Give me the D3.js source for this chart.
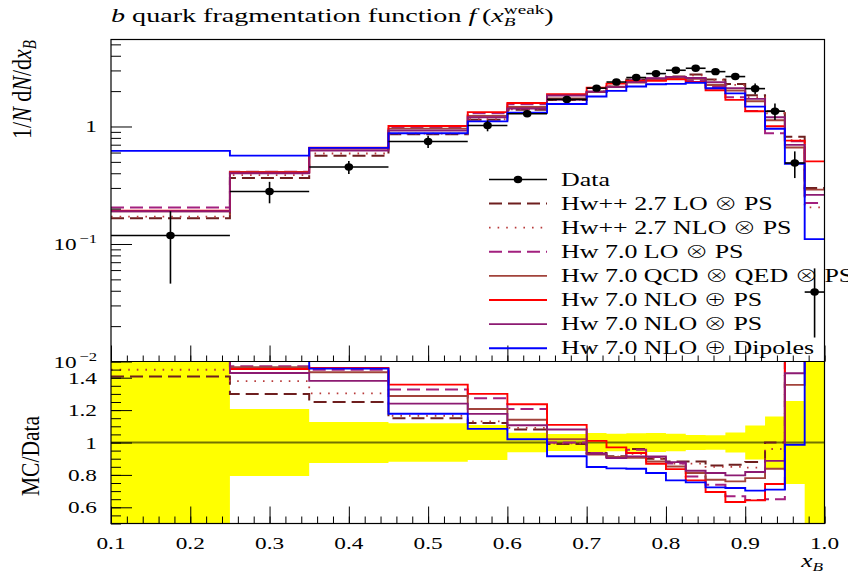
<!DOCTYPE html>
<html>
<head>
<meta charset="utf-8">
<script src="https://cdn.jsdelivr.net/npm/d3@7"></script>
<style>
  body { margin: 0; background: #fff; }
  svg text { font-family: "Liberation Serif", "DejaVu Serif", serif; fill: #000; }
  .op { font-family: "Noto Sans CJK JP", "DejaVu Sans", sans-serif; font-weight: 300; }
</style>
</head>
<body>
<svg id="chart" width="848" height="575"></svg>
<script>
// ---- data -------------------------------------------------------------
const binEdges = [0.1, 0.25, 0.35, 0.45, 0.55, 0.6, 0.65, 0.7, 0.725, 0.75, 0.775,
                  0.8, 0.825, 0.85, 0.875, 0.9, 0.925, 0.95, 0.975, 1.0];

const dataValues = [0.118, 0.280, 0.452, 0.745, 1.02, 1.284, 1.70, 2.12, 2.39, 2.61,
                    2.82, 3.01, 3.13, 2.93, 2.66, 2.10, 1.35, 0.489, 0.039];
const dataErrors = [0.072, 0.058, 0.057, 0.088, 0.11, 0.077, 0.09, 0.123, 0.13, 0.15,
                    0.165, 0.163, 0.144, 0.129, 0.164, 0.22, 0.217, 0.125, 0.023];

const hwpp27LO      = [0.166, 0.364, 0.565, 0.857, 1.142, 1.387, 1.683, 1.982, 2.187, 2.506,
                       2.538, 2.658, 2.764, 2.514, 2.296, 1.846, 1.35, 0.817, 0.30];
const hwpp27NLO     = [0.171, 0.386, 0.589, 0.868, 1.153, 1.40, 1.692, 1.972, 2.18, 2.427,
                       2.538, 2.619, 2.72, 2.49, 2.261, 1.775, 1.296, 0.764, 0.205];
const hw70LO        = [0.204, 0.412, 0.655, 0.989, 1.298, 1.55, 1.70, 1.982, 2.175, 2.493,
                       2.566, 2.619, 2.473, 2.168, 1.777, 1.355, 0.878, 0.748, 0.223];
const hw70QCDQED    = [0.19, 0.41, 0.648, 0.959, 1.231, 1.464, 1.734, 1.961, 2.175, 2.362,
                       2.49, 2.565, 2.542, 2.256, 2.022, 1.638, 1.131, 0.663, 0.29];
const hw70NLOplusPS = [0.192, 0.407, 0.66, 1.011, 1.326, 1.587, 1.885, 2.141, 2.318, 2.44,
                       2.451, 2.516, 2.398, 2.036, 1.684, 1.35, 1.004, 0.758, 0.505];
const hw70NLOxPS    = [0.19, 0.40, 0.624, 0.924, 1.20, 1.421, 1.836, 1.972, 2.161, 2.386,
                       2.577, 2.646, 2.585, 2.379, 2.12, 1.718, 1.197, 0.698, 0.262];
const hw70Dipoles   = [0.62, 0.565, 0.658, 0.877, 1.106, 1.31, 1.556, 1.80, 2.008, 2.187,
                       2.29, 2.306, 2.36, 2.118, 1.913, 1.476, 0.957, 0.482, 0.11];

const seriesLabels = ["Hw++ 2.7 LO \u2297 PS", "Hw++ 2.7 NLO \u2297 PS", "Hw 7.0 LO \u2297 PS",
                      "Hw 7.0 QCD \u2297 QED \u2297 PS", "Hw 7.0 NLO \u2295 PS",
                      "Hw 7.0 NLO \u2297 PS", "Hw 7.0 NLO \u2295 Dipoles"];
const seriesValues = [hwpp27LO, hwpp27NLO, hw70LO, hw70QCDQED, hw70NLOplusPS, hw70NLOxPS, hw70Dipoles];

const xTickValues = [0.1, 0.2, 0.3, 0.4, 0.5, 0.6, 0.7, 0.8, 0.9, 1.0];
const xTickLabels = ["0.1", "0.2", "0.3", "0.4", "0.5", "0.6", "0.7", "0.8", "0.9", "1.0"];
const ratioTickValues = [0.6, 0.8, 1.0, 1.2, 1.4];
const ratioTickLabels = ["0.6", "0.8", "1", "1.2", "1.4"];

// ---- styles -------------------------------------------------------------
const seriesStyles = [
  { color: "#6e1f1f", width: 2.0, dash: "13,6" },
  { color: "#b83a3a", width: 1.8, dash: "1.6,7" },
  { color: "#a3207f", width: 2.0, dash: "13,6" },
  { color: "#a2433b", width: 1.9, dash: null },
  { color: "#ff0000", width: 1.9, dash: null },
  { color: "#8c1a72", width: 1.9, dash: null },
  { color: "#0000ff", width: 1.9, dash: null }
];
const SX = 1.33;          // horizontal glyph stretch used for all text
const X0 = 111, X1 = 824.5;
const TOP0 = 39.5, TOP1 = 361.5, RAT1 = 523.5;

const svg = d3.select("#chart");

const x = d3.scaleLinear().domain([0.1, 1.0]).range([X0, X1]);
const yTop = d3.scaleLog().domain([0.01, 5.5]).range([TOP1, TOP0]);
const yRat = d3.scaleLinear().domain([0.5, 1.5]).range([RAT1, TOP1]);

const defs = svg.append("defs");
defs.append("clipPath").attr("id", "clipTop").append("rect")
  .attr("x", X0).attr("y", TOP0).attr("width", X1 - X0).attr("height", TOP1 - TOP0);
defs.append("clipPath").attr("id", "clipRat").append("rect")
  .attr("x", X0).attr("y", TOP1).attr("width", X1 - X0).attr("height", RAT1 - TOP1);

// step points: one per bin start, plus the final edge
function stepPoints(vals) {
  const pts = vals.map((v, i) => [binEdges[i], v]);
  pts.push([binEdges[binEdges.length - 1], vals[vals.length - 1]]);
  return pts;
}

// ---- text helpers ----------------------------------------------------------
function stretched(parent, tx, ty, anchor, size, build, rotated, sx) {
  const g = parent.append("g")
    .attr("transform", `translate(${tx},${ty}) scale(${sx || SX},1)` + (rotated ? " rotate(-90)" : ""));
  const t = g.append("text").attr("text-anchor", anchor).attr("font-size", size);
  build(t);
  return t;
}
// writes a label, drawing the circled operators with a thin glyph
function withOperators(t, label) {
  label.split(/([\u2295\u2297])/).forEach(part => {
    if (!part) return;
    const sp = t.append("tspan").text(part);
    if (part === "\u2295" || part === "\u2297") sp.attr("class", "op").attr("font-size", "0.9em");
  });
}

// ---- ratio panel ------------------------------------------------------------
const ratG = svg.append("g").attr("clip-path", "url(#clipRat)");
const relErr = dataErrors.map((e, i) => e / dataValues[i]);
ratG.append("path")
  .datum(stepPoints(relErr))
  .attr("fill", "#ffff00")
  .attr("d", d3.area().curve(d3.curveStepAfter)
    .x(d => x(d[0])).y0(d => yRat(1 - d[1])).y1(d => yRat(1 + d[1])));
ratG.append("line")
  .attr("x1", X0).attr("x2", X1).attr("y1", yRat(1)).attr("y2", yRat(1))
  .attr("stroke", "#000").attr("stroke-opacity", 0.55).attr("stroke-width", 1.8);

const ratioLine = d3.line().curve(d3.curveStepAfter)
  .x(d => x(d[0])).y(d => yRat(Math.min(Math.max(d[1], -2), 4)));
seriesValues.forEach((vals, s) => {
  const st = seriesStyles[s];
  const r = vals.map((v, i) => v / dataValues[i]);
  ratG.append("path").datum(stepPoints(r))
    .attr("fill", "none").attr("stroke", st.color).attr("stroke-width", st.width)
    .attr("stroke-dasharray", st.dash).attr("d", ratioLine);
});

// ---- main panel ---------------------------------------------------------------
const topG = svg.append("g").attr("clip-path", "url(#clipTop)");
const mcLine = d3.line().curve(d3.curveStepAfter).x(d => x(d[0])).y(d => yTop(d[1]));
seriesValues.forEach((vals, s) => {
  const st = seriesStyles[s];
  topG.append("path").datum(stepPoints(vals))
    .attr("fill", "none").attr("stroke", st.color).attr("stroke-width", st.width)
    .attr("stroke-dasharray", st.dash).attr("d", mcLine);
});

const dataG = svg.append("g");
dataValues.forEach((v, i) => {
  const lo = binEdges[i], hi = binEdges[i + 1], mid = (lo + hi) / 2;
  dataG.append("line").attr("x1", x(lo)).attr("x2", x(hi)).attr("y1", yTop(v)).attr("y2", yTop(v))
    .attr("stroke", "#000").attr("stroke-width", 1.6);
  dataG.append("line").attr("x1", x(mid)).attr("x2", x(mid))
    .attr("y1", yTop(v - dataErrors[i])).attr("y2", yTop(v + dataErrors[i]))
    .attr("stroke", "#000").attr("stroke-width", 1.6);
  dataG.append("ellipse").attr("cx", x(mid)).attr("cy", yTop(v))
    .attr("rx", 4.3).attr("ry", 3.7).attr("fill", "#000");
});

// ---- frames and ticks -----------------------------------------------------------
function cleanAxis(g) {
  g.select(".domain").remove();
  g.selectAll(".tick line").attr("stroke", "#000").attr("stroke-width", 1);
  g.selectAll(".tick text").remove();
}
const logMinor = [];
[0.01, 0.1, 1].forEach(dec => { for (let k = 2; k <= 9; k++) if (dec * k < 5.5) logMinor.push(dec * k); });
const xMinor = d3.range(0.1, 1.0001, 0.02).map(v => +v.toFixed(3));
const ratMinor = d3.range(0.5, 1.5001, 0.05).map(v => +v.toFixed(3));

svg.append("g").attr("transform", `translate(${X0},0)`)
  .call(d3.axisRight(yTop).tickValues([0.01, 0.1, 1]).tickSize(21)).call(cleanAxis);
svg.append("g").attr("transform", `translate(${X0},0)`)
  .call(d3.axisRight(yTop).tickValues(logMinor).tickSize(10)).call(cleanAxis);
svg.append("g").attr("transform", `translate(0,${TOP1})`)
  .call(d3.axisTop(x).tickValues(xTickValues).tickSize(16)).call(cleanAxis);
svg.append("g").attr("transform", `translate(0,${TOP1})`)
  .call(d3.axisTop(x).tickValues(xMinor).tickSize(6)).call(cleanAxis);

svg.append("g").attr("transform", `translate(${X0},0)`)
  .call(d3.axisRight(yRat).tickValues(ratioTickValues).tickSize(21)).call(cleanAxis);
svg.append("g").attr("transform", `translate(${X0},0)`)
  .call(d3.axisRight(yRat).tickValues(ratMinor).tickSize(10)).call(cleanAxis);
svg.append("g").attr("transform", `translate(0,${RAT1})`)
  .call(d3.axisTop(x).tickValues(xTickValues).tickSize(17)).call(cleanAxis);
svg.append("g").attr("transform", `translate(0,${RAT1})`)
  .call(d3.axisTop(x).tickValues(xMinor).tickSize(7)).call(cleanAxis);

svg.append("rect").attr("x", X0).attr("y", TOP0).attr("width", X1 - X0).attr("height", RAT1 - TOP0)
  .attr("fill", "none").attr("stroke", "#000").attr("stroke-width", 1.2);
svg.append("line").attr("x1", X0).attr("x2", X1).attr("y1", TOP1).attr("y2", TOP1)
  .attr("stroke", "#000").attr("stroke-width", 1.2);

// ---- tick labels -----------------------------------------------------------------
xTickValues.forEach((v, i) => {
  stretched(svg, x(v), 549, "middle", 17.5, t => t.text(xTickLabels[i]));
});
ratioTickValues.forEach((v, i) => {
  stretched(svg, 97, yRat(v) + 6, "end", 17.5, t => t.text(ratioTickLabels[i]));
});
stretched(svg, 97, yTop(1) + 6, "end", 17.5, t => t.text("1"));
[[0.1, "\u22121"], [0.01, "\u22122"]].forEach(([v, e]) => {
  stretched(svg, 97, yTop(v) + 6, "end", 17.5, t => {
    t.append("tspan").text("10");
    t.append("tspan").attr("font-size", 12.5).attr("dx", 2).attr("dy", -7).text(e);
  });
});

// ---- axis titles ------------------------------------------------------------------
stretched(svg, 823, 567, "end", 19, t => {
  t.append("tspan").attr("font-style", "italic").text("x");
  t.append("tspan").attr("font-style", "italic").attr("font-size", 13).attr("dy", 4).text("B");
});
stretched(svg, 31, 40, "end", 22, t => {
  t.append("tspan").text("1/");
  t.append("tspan").attr("font-style", "italic").text("N");
  t.append("tspan").text(" d");
  t.append("tspan").attr("font-style", "italic").text("N");
  t.append("tspan").text("/d");
  t.append("tspan").attr("font-style", "italic").text("x");
  t.append("tspan").attr("font-style", "italic").attr("font-size", 15).attr("dy", 4).text("B");
}, true, 1.2);
stretched(svg, 39, 456, "middle", 21.5, t => t.text("MC/Data"), true, 1.2);

// ---- title ---------------------------------------------------------------------------
stretched(svg, 111, 22, "start", 19, t => {
  t.append("tspan").attr("font-style", "italic").text("b");
  t.append("tspan").text(" quark fragmentation function ");
  t.append("tspan").attr("font-style", "italic").text("f");
  t.append("tspan").text("\u2009(");
  t.append("tspan").attr("font-style", "italic").text("x");
  const sub = t.append("tspan").attr("font-style", "italic").attr("font-size", 13).attr("dy", 4).text("B");
  const subLen = sub.node().getComputedTextLength();
  t.append("tspan").attr("font-size", 13).attr("dx", -subLen).attr("dy", -12).text("weak");
  t.append("tspan").attr("dy", 8).text(")");
}, false, 1.48);

// ---- legend -----------------------------------------------------------------------------
const LX0 = 489, LX1 = 547, LTX = 561, LY0 = 179.5, LDY = 24.1;
const legG = svg.append("g");
legG.append("line").attr("x1", LX0).attr("x2", LX1).attr("y1", LY0).attr("y2", LY0)
  .attr("stroke", "#000").attr("stroke-width", 1.6);
legG.append("ellipse").attr("cx", (LX0 + LX1) / 2).attr("cy", LY0).attr("rx", 4.3).attr("ry", 3.7)
  .attr("fill", "#000");
stretched(legG, LTX, LY0 + 6, "start", 19.5, t => t.text("Data"));
seriesLabels.forEach((lab, s) => {
  const st = seriesStyles[s];
  const y = LY0 + (s + 1) * LDY;
  legG.append("line").attr("x1", LX0).attr("x2", LX1).attr("y1", y).attr("y2", y)
    .attr("stroke", st.color).attr("stroke-width", st.width).attr("stroke-dasharray", st.dash);
  stretched(legG, LTX, y + 6, "start", 19.5, t => withOperators(t, lab));
});
</script>
</body>
</html>
